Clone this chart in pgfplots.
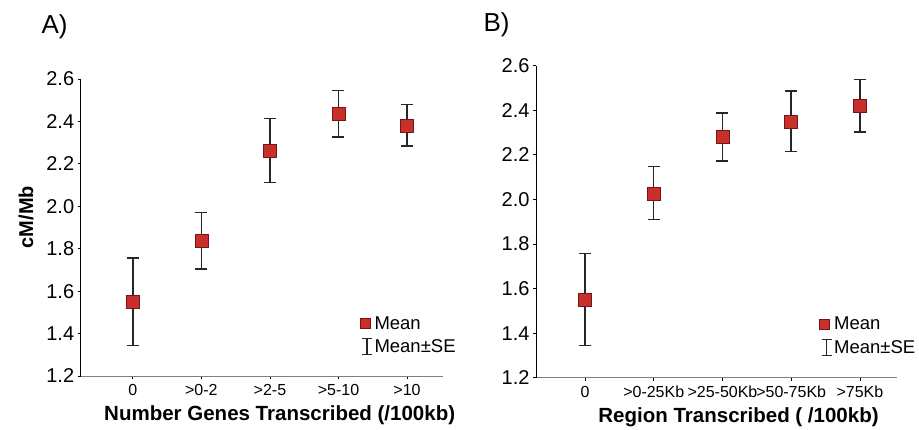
\documentclass[border=0pt]{standalone}
\usepackage{pgfplots}
\pgfplotsset{compat=1.18}
\usepackage{fontspec}
\setmainfont{Liberation Sans}
\definecolor{mred}{RGB}{200,48,44}
\definecolor{mredd}{RGB}{120,20,20}
\pgfplotsset{
  myax/.style={
    scale only axis,
    axis x line*=bottom, axis y line*=left,
    x axis line style={gray, line width=0.8pt, -},
    y axis line style={black, line width=0.8pt, -},
    ymin=1.2, ymax=2.6,
    ytick={1.2,1.4,...,2.6},
    yticklabel style={/pgf/number format/fixed,/pgf/number format/fixed zerofill,/pgf/number format/precision=1, font=\fontsize{20bp}{22bp}\selectfont},
    /pgf/number format/assume math mode=true,
    xtick={0,1,2,3,4},
    xticklabel style={font=\fontsize{16bp}{18bp}\selectfont, yshift=-2bp},
    tick align=outside, tick style={black, line width=0.8pt},
    major tick length=3bp,
    xlabel style={font=\bfseries\fontsize{20.5bp}{22bp}\selectfont, yshift=-3bp},
    ylabel style={font=\bfseries\fontsize{20bp}{22bp}\selectfont, at={(ticklabel cs:0.535)}, yshift=6bp},
    legend style={draw=none, fill=none, font=\fontsize{18.5bp}{20bp}\selectfont, legend cell align=left, anchor=south east, row sep=5bp},
    legend cell align=left,
    clip=false,
  },
  datastyle/.style={
    only marks, mark=square*, mark size=6.5bp,
    mark options={fill=mred, draw=mredd, line width=0.6pt},
    error bars/.cd, y dir=both, y explicit,
    error bar style={black!85, line width=1.4pt},
    error mark options={black!85, line width=1.4pt, mark size=6bp, rotate=90},
  },
  meanimg/.style={legend image code/.code={
    \draw[fill=mred, draw=mredd, line width=0.6pt] (0.28cm-11bp,-5bp) rectangle (0.28cm-1bp,5bp);
  }},
  seimg/.style={legend image code/.code={
    \draw[gray!30!black, line width=1.1pt] (0.28cm-4bp,-8bp) -- (0.28cm-4bp,8bp);
    \draw[gray!30!black, line width=1.1pt] (0.28cm-9bp,-8bp) -- (0.28cm+1bp,-8bp);
    \draw[gray!30!black, line width=1.1pt] (0.28cm-9bp,8bp) -- (0.28cm+1bp,8bp);
  }},
}
\begin{document}
\begin{tikzpicture}[x=1bp,y=1bp]
\path[use as bounding box] (0,0) rectangle (919,429);
\node[anchor=west, font=\fontsize{26bp}{28bp}\selectfont] at (38,402) {A)};
\node[anchor=west, font=\fontsize{26bp}{28bp}\selectfont] at (480,404) {B)};
\begin{axis}[myax, at={(80.7bp,53bp)}, anchor=south west, width=362bp, height=297bp,
  xmin=-0.76, xmax=4.52,
  xticklabels={0,{>0-2},{>2-5},{>5-10},{>10}},
  xlabel={Number Genes Transcribed (/100kb)},
  xlabel style={xshift=18bp},
  ylabel={cM/Mb},
  legend style={at={(rel axis cs:1.05,0.06)}},
]
\addplot+[forget plot, datastyle] coordinates {
  (0,1.550) += (0,0.207) -= (0,0.205)
  (1,1.837) += (0,0.134) -= (0,0.132)
  (2,2.260) += (0,0.155) -= (0,0.147)
  (3,2.435) += (0,0.110) -= (0,0.109)
  (4,2.380) += (0,0.100) -= (0,0.095)
};
\addlegendimage{meanimg}
\addlegendentry{Mean}
\addlegendimage{seimg}
\addlegendentry{Mean\textpm SE}
\end{axis}
\begin{axis}[myax, at={(536bp,51.3bp)}, anchor=south west, width=361bp, height=312bp,
  xmin=-0.713, xmax=4.54,
  xticklabels={0,{>0-25Kb},{>25-50Kb},{>50-75Kb},{>75Kb}},
  xlabel={Region Transcribed ( /100kb)},
  xlabel style={xshift=22bp},
  legend style={at={(rel axis cs:1.065,0.06)}},
]
\addplot+[forget plot, datastyle] coordinates {
  (0,1.549) += (0,0.209) -= (0,0.205)
  (1,2.027) += (0,0.120) -= (0,0.116)
  (2,2.279) += (0,0.109) -= (0,0.107)
  (3,2.349) += (0,0.137) -= (0,0.133)
  (4,2.422) += (0,0.117) -= (0,0.119)
};
\addlegendimage{meanimg}
\addlegendentry{Mean}
\addlegendimage{seimg}
\addlegendentry{Mean\textpm SE}
\end{axis}
\end{tikzpicture}
\end{document}
